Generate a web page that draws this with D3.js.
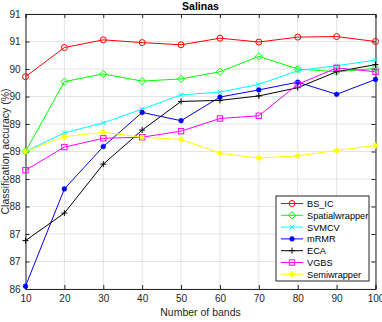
<!DOCTYPE html>
<html><head><meta charset="utf-8">
<script src="https://cdn.jsdelivr.net/npm/d3@7"></script>
<style>
html,body{margin:0;padding:0;background:#fff;}
text{font-family:"Liberation Sans",Arial,Helvetica,sans-serif;}
</style></head>
<body><svg id="c" width="382" height="322"></svg>
<script>
const bands = [10,20,30,40,50,60,70,80,90,100];
const BS_IC = [89.86,90.39,90.53,90.48,90.44,90.56,90.49,90.58,90.59,90.50];
const Spatialwrapper = [88.50,89.77,89.91,89.78,89.82,89.95,90.23,90.00,89.95,90.01];
const SVMCV = [88.50,88.84,89.02,89.27,89.53,89.58,89.72,89.97,90.06,90.16];
const mRMR = [86.05,87.82,88.59,89.21,89.06,89.49,89.62,89.76,89.54,89.81];
const ECA = [86.88,87.38,88.27,88.89,89.41,89.43,89.51,89.66,89.95,90.08];
const VGBS = [88.16,88.58,88.74,88.76,88.87,89.10,89.15,89.72,90.02,89.95];
const Semiwrapper = [88.50,88.77,88.85,88.76,88.72,88.47,88.38,88.42,88.52,88.61];
const seriesNames = ["BS_IC","Spatialwrapper","SVMCV","mRMR","ECA","VGBS","Semiwrapper"];
const seriesValues = [BS_IC,Spatialwrapper,SVMCV,mRMR,ECA,VGBS,Semiwrapper];
const seriesColors = ["#ff0000","#00ff00","#00ffff","#0000ff","#000000","#ff00ff","#ffff00"];
const seriesMarkers = ["circle","diamond","x","dot","plus","square","star"];
const yTicks = [86,86.5,87,87.5,88,88.5,89,89.5,90,90.5,91];
const xTicks = [10,20,30,40,50,60,70,80,90,100];
const title = "Salinas", xLabel = "Number of bands", yLabel = "Classification accuracy (%)";

const svg = d3.select("#c");
const L=25.5, R=375.5, T=14, B=289;
const x = d3.scaleLinear().domain([10,100]).range([L,R]);
const y = d3.scaleLinear().domain([86,91]).range([B,T]);
const axisCol = "#262626";

// grid
const g = svg.append("g");
g.selectAll(".gx").data(xTicks).join("line")
 .attr("x1",d=>x(d)).attr("x2",d=>x(d)).attr("y1",T).attr("y2",B)
 .attr("stroke","#e3e3e3").attr("stroke-width",1);
g.selectAll(".gy").data(yTicks).join("line")
 .attr("x1",L).attr("x2",R).attr("y1",d=>y(d)).attr("y2",d=>y(d))
 .attr("stroke","#e3e3e3").attr("stroke-width",1);

// axes
const fmt = d=>d3.format(".0f")(Math.round(d+1e-9));
const ax = svg.append("g").attr("transform",`translate(0,${B})`)
 .call(d3.axisBottom(x).tickValues(xTicks).tickSize(-4).tickPadding(6).tickFormat(d3.format("d")));
const ay = svg.append("g").attr("transform",`translate(${L},0)`)
 .call(d3.axisLeft(y).tickValues(yTicks).tickSize(-4).tickPadding(5).tickFormat(d=>Math.round(d)));
const axT = svg.append("g").attr("transform",`translate(0,${T})`)
 .call(d3.axisTop(x).tickValues(xTicks).tickSize(-4).tickFormat(""));
const ayR = svg.append("g").attr("transform",`translate(${R},0)`)
 .call(d3.axisRight(y).tickValues(yTicks).tickSize(-4).tickFormat(""));
[ax,ay,axT,ayR].forEach(a=>{
  a.selectAll("path").attr("stroke",axisCol).attr("stroke-width",1);
  a.selectAll("line").attr("stroke",axisCol);
  a.selectAll("text").attr("fill",axisCol).style("font-size","10px")
   .style("font-family","'Liberation Sans',Arial,sans-serif");
});

// markers
function drawMarker(sel, type, color, cx, cy){
  const m = sel.append("g").attr("transform",`translate(${cx},${cy})`);
  if(type==="circle") m.append("circle").attr("r",3).attr("fill","none").attr("stroke",color).attr("stroke-width",1);
  else if(type==="diamond") m.append("path").attr("d","M0,-3.6L3.6,0L0,3.6L-3.6,0Z").attr("fill","none").attr("stroke",color).attr("stroke-width",1);
  else if(type==="square") m.append("rect").attr("x",-2.7).attr("y",-2.7).attr("width",5.4).attr("height",5.4).attr("fill","none").attr("stroke",color).attr("stroke-width",1);
  else if(type==="x") m.append("path").attr("d","M-2.3,-2.3L2.3,2.3M-2.3,2.3L2.3,-2.3").attr("stroke",color).attr("stroke-width",1);
  else if(type==="plus") m.append("path").attr("d","M-3,0L3,0M0,-3L0,3").attr("stroke",color).attr("stroke-width",1);
  else if(type==="dot") m.append("circle").attr("r",2.4).attr("fill",color).attr("stroke",color).attr("stroke-width",0.5);
  else if(type==="star") m.append("path").attr("d","M-3,0L3,0M0,-3L0,3M-2.1,-2.1L2.1,2.1M-2.1,2.1L2.1,-2.1").attr("stroke",color).attr("stroke-width",1.2);
}

const line = d3.line().x((d,i)=>x(bands[i])).y(d=>y(d));
const plot = svg.append("g");
seriesValues.forEach((vals,k)=>{
  plot.append("path").datum(vals).attr("d",line).attr("fill","none")
   .attr("stroke",seriesColors[k]).attr("stroke-width",1);
});
seriesValues.forEach((vals,k)=>{
  vals.forEach((v,i)=>drawMarker(plot,seriesMarkers[k],seriesColors[k],x(bands[i]),y(v)));
});

// title & labels
svg.append("text").attr("x",(L+R)/2).attr("y",10).attr("text-anchor","middle")
 .style("font-size","10.5px").style("font-weight","bold").attr("fill","#000").text(title);
svg.append("text").attr("x",(L+R)/2).attr("y",316).attr("text-anchor","middle")
 .style("font-size","10.5px").attr("fill",axisCol).text(xLabel);
svg.append("text").attr("transform",`translate(9,${(T+B)/2}) rotate(-90)`).attr("text-anchor","middle")
 .style("font-size","10.5px").attr("fill",axisCol).text(yLabel);

// legend
const lg = svg.append("g");
const lx=276, ly=196, lw=93, lh=85;
lg.append("rect").attr("x",lx).attr("y",ly).attr("width",lw).attr("height",lh)
 .attr("fill","#fff").attr("stroke",axisCol).attr("stroke-width",1);
seriesNames.forEach((n,k)=>{
  const cy = ly+7.5+k*11.8;
  lg.append("line").attr("x1",lx+5).attr("x2",lx+27).attr("y1",cy).attr("y2",cy)
   .attr("stroke",seriesColors[k]).attr("stroke-width",1);
  drawMarker(lg,seriesMarkers[k],seriesColors[k],lx+16,cy);
  lg.append("text").attr("x",lx+31).attr("y",cy+3.4).style("font-size","9.2px").attr("fill","#000").text(n);
});
</script></body></html>
